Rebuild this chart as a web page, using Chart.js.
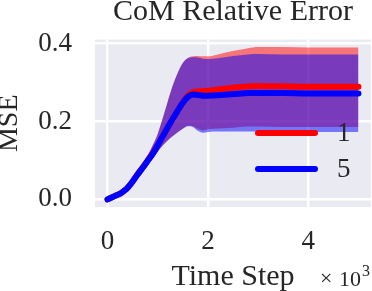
<!DOCTYPE html>
<html>
<head>
<meta charset="utf-8">
<script src="https://cdn.jsdelivr.net/npm/chart.js@4.4.1/dist/chart.umd.min.js"></script>
<style>
    html, body { margin: 0; padding: 0; background: #ffffff; }
</style>
</head>
<body>
<canvas id="chart" width="372" height="291"></canvas>
<script>
// x: time steps; axis shows them in units of 10^3
const timeSteps = [0, 150, 280, 350, 400, 500, 600, 700, 800, 900, 1000, 1100, 1200, 1300, 1400, 1500,
    1600, 1700, 1800, 1900, 2000, 2200, 2400, 2600, 2800, 3000, 3500, 4000, 4500, 5000];

// run "1"
const mean1 = [0, 0.009, 0.017, 0.024, 0.030, 0.046, 0.065, 0.082, 0.100, 0.118, 0.139, 0.162, 0.185, 0.207, 0.228, 0.249,
    0.266, 0.275, 0.277, 0.278, 0.279, 0.282, 0.285, 0.288, 0.290, 0.291, 0.290, 0.289, 0.289, 0.289];
const upper1 = [0, 0.009, 0.017, 0.024, 0.030, 0.049, 0.070, 0.092, 0.114, 0.139, 0.168, 0.208, 0.251, 0.292, 0.325, 0.350,
    0.363, 0.367, 0.368, 0.367, 0.367, 0.372, 0.378, 0.383, 0.388, 0.391, 0.391, 0.390, 0.390, 0.390];
const lower1 = [0, 0.009, 0.017, 0.024, 0.030, 0.044, 0.058, 0.072, 0.088, 0.105, 0.123, 0.139, 0.152, 0.163, 0.173, 0.182,
    0.189, 0.188, 0.181, 0.177, 0.180, 0.182, 0.183, 0.185, 0.187, 0.187, 0.186, 0.186, 0.186, 0.186];

// run "5"
const mean5 = [0, 0.009, 0.017, 0.024, 0.030, 0.046, 0.064, 0.081, 0.099, 0.117, 0.139, 0.162, 0.185, 0.207, 0.228, 0.248,
    0.263, 0.269, 0.268, 0.266, 0.266, 0.267, 0.269, 0.271, 0.273, 0.273, 0.273, 0.272, 0.272, 0.272];
const upper5 = [0, 0.009, 0.017, 0.024, 0.030, 0.048, 0.068, 0.090, 0.112, 0.138, 0.168, 0.208, 0.251, 0.292, 0.325, 0.350,
    0.362, 0.365, 0.364, 0.361, 0.360, 0.362, 0.366, 0.369, 0.372, 0.373, 0.372, 0.372, 0.372, 0.372];
const lower5 = [0, 0.009, 0.017, 0.024, 0.030, 0.044, 0.057, 0.071, 0.087, 0.104, 0.122, 0.138, 0.151, 0.162, 0.172, 0.181,
    0.188, 0.186, 0.176, 0.171, 0.173, 0.174, 0.174, 0.174, 0.174, 0.174, 0.174, 0.173, 0.173, 0.173];

const xTicks = [0, 2000, 4000];
const yTicks = [0.0, 0.2, 0.4];

const serif = 'Liberation Serif';
const textColor = '#262626';

const toPoints = (ys) => timeSteps.map((t, i) => ({ x: t, y: ys[i] }));

const lineSet = (label, ys, color) => ({
    label: label,
    data: toPoints(ys),
    borderColor: color,
    borderWidth: 6,
    borderCapStyle: 'round',
    borderJoinStyle: 'round',
    pointRadius: 0,
    fill: false,
    cubicInterpolationMode: 'monotone'
});

const bandSet = (ys, color, fill) => ({
    label: '',
    data: toPoints(ys),
    borderColor: 'rgba(0,0,0,0)',
    borderWidth: 0,
    backgroundColor: color,
    pointRadius: 0,
    fill: fill,
    cubicInterpolationMode: 'monotone'
});

// seaborn style axes face
const facePlugin = {
    id: 'face',
    beforeDraw(chart) {
        const { ctx, chartArea: a } = chart;
        ctx.save();
        ctx.fillStyle = '#eaeaf2';
        ctx.fillRect(a.left, a.top, a.right - a.left, a.bottom - a.top);
        ctx.restore();
    }
};

// legend inside the axes, lower right
const innerLegend = {
    id: 'innerLegend',
    afterDatasetsDraw(chart) {
        const { ctx, chartArea: a } = chart;
        const items = chart.data.datasets.filter(d => d.label).reverse();
        ctx.save();
        items.forEach((d, i) => {
            const y = a.bottom - 74 + i * 36;
            ctx.strokeStyle = d.borderColor;
            ctx.lineWidth = 6;
            ctx.lineCap = 'round';
            ctx.beginPath();
            ctx.moveTo(a.right - 113, y);
            ctx.lineTo(a.right - 56, y);
            ctx.stroke();
            ctx.fillStyle = textColor;
            ctx.font = '27px "' + serif + '"';
            ctx.textBaseline = 'middle';
            ctx.textAlign = 'left';
            ctx.fillText(d.label, a.right - 34, y + 1);
        });
        ctx.restore();
    }
};

// the "x10^3" offset text under the right end of the x axis
const offsetText = {
    id: 'offsetText',
    afterDraw(chart) {
        const { ctx, chartArea: a } = chart;
        ctx.save();
        ctx.fillStyle = textColor;
        ctx.textBaseline = 'alphabetic';
        ctx.textAlign = 'left';
        ctx.font = '22px "' + serif + '"';
        ctx.fillText('\u00d7', a.right - 51, 285);
        ctx.fillText('10', a.right - 32, 286);
        ctx.font = '16px "' + serif + '"';
        ctx.fillText('3', a.right - 9, 276);
        ctx.restore();
    }
};

new Chart(document.getElementById('chart'), {
    type: 'line',
    data: {
        datasets: [
            lineSet('5', mean5, '#0000ff'),
            lineSet('1', mean1, '#ff0000'),
            bandSet(upper5, 'rgba(0,0,255,0.5)', '+1'),
            bandSet(lower5, 'rgba(0,0,0,0)', false),
            bandSet(upper1, 'rgba(255,0,0,0.5)', '+1'),
            bandSet(lower1, 'rgba(0,0,0,0)', false)
        ]
    },
    options: {
        responsive: false,
        devicePixelRatio: 1,
        animation: false,
        layout: { padding: { left: 0, right: 1, top: 0, bottom: 0 } },
        plugins: {
            legend: { display: false },
            tooltip: { enabled: false },
            title: {
                display: true,
                fullSize: false,
                text: 'CoM Relative Error',
                color: textColor,
                font: { family: serif, size: 30, weight: 'normal', lineHeight: 0.8 },
                padding: { top: 0, bottom: 15.6 }
            }
        },
        scales: {
            x: {
                type: 'linear',
                min: -250,
                max: 5250,
                afterBuildTicks: (axis) => { axis.ticks = xTicks.map(v => ({ value: v })); },
                afterFit: (axis) => { axis.height = 84; },
                grid: { color: '#ffffff', lineWidth: 2.5, drawTicks: false },
                border: { display: false },
                ticks: {
                    color: textColor,
                    padding: 21,
                    font: { family: serif, size: 27, lineHeight: 1 },
                    callback: (v) => String(v / 1000)
                },
                title: {
                    display: true,
                    text: 'Time Step',
                    color: textColor,
                    font: { family: serif, size: 30, lineHeight: 1 },
                    padding: { top: 0, bottom: -1 }
                }
            },
            y: {
                type: 'linear',
                min: -0.0195,
                max: 0.41,
                afterBuildTicks: (axis) => { axis.ticks = yTicks.map(v => ({ value: v })); },
                afterFit: (axis) => { axis.width = 95; },
                grid: { color: '#ffffff', lineWidth: 2.5, drawTicks: false },
                border: { display: false },
                ticks: {
                    color: textColor,
                    padding: 23,
                    font: { family: serif, size: 27, lineHeight: 1 },
                    callback: (v) => v.toFixed(1)
                },
                title: {
                    display: true,
                    text: 'MSE',
                    color: textColor,
                    font: { family: serif, size: 28, lineHeight: 0.7 },
                    padding: { top: 0, bottom: 0 }
                }
            }
        }
    },
    plugins: [facePlugin, innerLegend, offsetText]
});
</script>
</body>
</html>
